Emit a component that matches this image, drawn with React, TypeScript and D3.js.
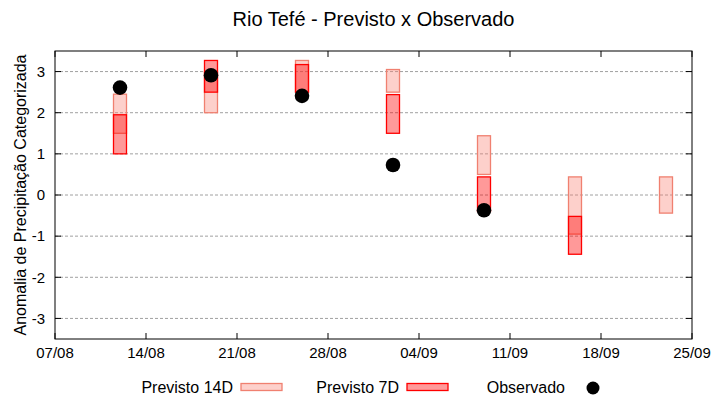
import React from 'react';
import * as d3 from 'd3';

// dates of each forecast week
const dates = ['2023-08-12', '2023-08-19', '2023-08-26', '2023-09-02', '2023-09-09', '2023-09-16', '2023-09-23'];
const prev14Low = [1.5, 2.0, 2.5, 2.5, 0.5, -0.95, -0.44];
const prev14High = [2.45, 3.0, 3.27, 3.05, 1.44, 0.44, 0.44];
const prev7Low: (number | null)[] = [1.0, 2.5, 2.5, 1.5, -0.4, -1.44, null];
const prev7High: (number | null)[] = [1.95, 3.27, 3.17, 2.44, 0.44, -0.52, null];
const observed: (number | null)[] = [2.61, 2.91, 2.41, 0.73, -0.37, null, null];

const xTickDates = ['2023-08-07', '2023-08-14', '2023-08-21', '2023-08-28', '2023-09-04', '2023-09-11', '2023-09-18', '2023-09-25'];
const yTicks = [-3, -2, -1, 0, 1, 2, 3];
const legendLabels = ['Previsto 14D', 'Previsto 7D', 'Observado'];

const W = 720;
const H = 400;
const margin = { top: 51, right: 28, bottom: 61, left: 55 };
const FONT = '"Liberation Sans", Arial, sans-serif';

const C14_FILL = '#fa8072';
const C14_STROKE = '#f08070';
const C7_FILL = '#ff0000';
const C7_STROKE = '#ff0000';

const parse = d3.utcParse('%Y-%m-%d');
const DAY = 24 * 3600 * 1000;

const App: React.FC = () => {
  const x = d3.scaleUtc()
    .domain([parse('2023-08-07')!, parse('2023-09-25')!])
    .range([margin.left, W - margin.right]);
  const y = d3.scaleLinear()
    .domain([-3.5, 3.5])
    .range([H - margin.bottom, margin.top]);
  const fmt = d3.utcFormat('%d/%m');

  const x0 = margin.left;
  const x1 = W - margin.right;
  const y0 = margin.top;
  const y1 = H - margin.bottom;
  const tickLen = 6;

  const box = (d: string) => {
    const t = parse(d)!.getTime();
    return [x(new Date(t - DAY / 2)), x(new Date(t + DAY / 2))];
  };

  const sampleX = [241, 407, 573];
  const legendY = 387;

  return (
    <svg width={W} height={H} style={{ position: 'absolute', left: 0, top: 0, background: '#fff' }} fontFamily={FONT}>
      <rect x={0} y={0} width={W} height={H} fill="#fff" />
      <text x={(x0 + x1) / 2} y={26} textAnchor="middle" fontSize={20} fill="#000">Rio Tefé - Previsto x Observado</text>

      {/* grid */}
      {yTicks.map(t => (
        <line key={'g' + t} x1={x0} x2={x1} y1={y(t)} y2={y(t)} stroke="#a0a0a0" strokeWidth={1} strokeDasharray="3,2" />
      ))}

      {/* 14D boxes */}
      {dates.map((d, i) => {
        const [a, b] = box(d);
        return (
          <rect key={'p14' + i} x={a} width={b - a} y={y(prev14High[i])} height={y(prev14Low[i]) - y(prev14High[i])}
            fill={C14_FILL} fillOpacity={0.37} stroke={C14_STROKE} strokeWidth={1.3} />
        );
      })}
      {/* 7D boxes */}
      {dates.map((d, i) => {
        const lo = prev7Low[i];
        const hi = prev7High[i];
        if (lo == null || hi == null) return null;
        const [a, b] = box(d);
        return (
          <rect key={'p7' + i} x={a} width={b - a} y={y(hi)} height={y(lo) - y(hi)}
            fill={C7_FILL} fillOpacity={0.4} stroke={C7_STROKE} strokeWidth={1.3} />
        );
      })}
      {/* observed */}
      {dates.map((d, i) => {
        const v = observed[i];
        if (v == null) return null;
        return <circle key={'o' + i} cx={x(parse(d)!)} cy={y(v)} r={7.3} fill="#000" />;
      })}

      {/* frame */}
      <rect x={x0} y={y0} width={x1 - x0} height={y1 - y0} fill="none" stroke="#000" strokeWidth={1} />
      {yTicks.map(t => (
        <g key={'yt' + t}>
          <line x1={x0} x2={x0 + tickLen} y1={y(t)} y2={y(t)} stroke="#000" />
          <line x1={x1} x2={x1 - tickLen} y1={y(t)} y2={y(t)} stroke="#000" />
          <text x={x0 - 10} y={y(t)} dy="0.35em" textAnchor="end" fontSize={15} fill="#000">{t}</text>
        </g>
      ))}
      {xTickDates.map(s => {
        const dt = parse(s)!;
        const px = x(dt);
        return (
          <g key={'xt' + s}>
            <line x1={px} x2={px} y1={y1} y2={y1 - tickLen} stroke="#000" />
            <line x1={px} x2={px} y1={y0} y2={y0 + tickLen} stroke="#000" />
            <text x={px} y={y1 + 19} textAnchor="middle" fontSize={15} fill="#000">{fmt(dt)}</text>
          </g>
        );
      })}

      <text transform={`translate(26,${(y0 + y1) / 2}) rotate(-90)`} textAnchor="middle" fontSize={16} fill="#000">
        Anomalia de Precipitação Categorizada
      </text>

      {/* legend */}
      {legendLabels.map((l, i) => (
        <text key={'lt' + i} x={sampleX[i] - 8} y={legendY} dy="0.35em" textAnchor="end" fontSize={16} fill="#000">{l}</text>
      ))}
      <rect x={sampleX[0]} y={legendY - 3.5} width={41} height={7} fill={C14_FILL} fillOpacity={0.37} stroke={C14_STROKE} strokeWidth={1.3} />
      <rect x={sampleX[1]} y={legendY - 3.5} width={41} height={7} fill={C7_FILL} fillOpacity={0.4} stroke={C7_STROKE} strokeWidth={1.3} />
      <circle cx={sampleX[2] + 20} cy={legendY + 1} r={6.5} fill="#000" />
    </svg>
  );
};

export default App;
